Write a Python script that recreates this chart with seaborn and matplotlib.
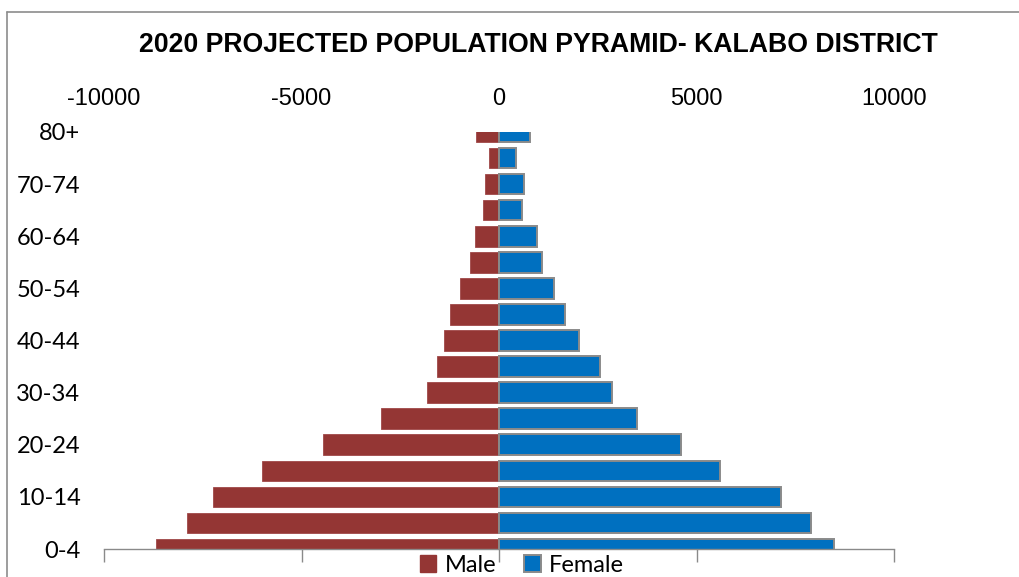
import matplotlib
matplotlib.use("Agg")
import matplotlib.pyplot as plt
import seaborn as sns
import pandas as pd
from matplotlib.lines import Line2D
from matplotlib.patches import Patch

# age groups, youngest first
age_groups = ["0-4", "5-9", "10-14", "15-19", "20-24", "25-29", "30-34", "35-39",
              "40-44", "45-49", "50-54", "55-59", "60-64", "65-69", "70-74", "75-79", "80+"]
male = [8680, 7910, 7230, 6010, 4450, 3000, 1830, 1580, 1380, 1230, 1000, 740, 610, 410, 350, 250, 580]
female = [8480, 7910, 7150, 5600, 4610, 3490, 2870, 2550, 2030, 1660, 1380, 1100, 970, 590, 640, 430, 790]
x_ticks = [-10000, -5000, 0, 5000, 10000]

male_color = "#943634"
female_color = "#0070C0"

df = pd.DataFrame({"Age": age_groups, "Male": [-m for m in male], "Female": female})
order = age_groups[::-1]  # oldest at the top

sns.set_style("white")
plt.rcParams["font.family"] = ["Liberation Sans", "DejaVu Sans"]
plt.rcParams["text.color"] = "black"
plt.rcParams["xtick.color"] = "black"
plt.rcParams["ytick.color"] = "black"

narrow = ["Lato", "DejaVu Sans"]

fig = plt.figure(figsize=(10.19, 5.77), dpi=100)
ax = fig.add_axes([104 / 1019, 1 - 549 / 577, 790 / 1019, 417 / 577])

sns.barplot(data=df, x="Male", y="Age", order=order, orient="h", color=male_color,
            width=0.79, edgecolor="#a04848", linewidth=0.6, saturation=1, ax=ax)
sns.barplot(data=df, x="Female", y="Age", order=order, orient="h", color=female_color,
            width=0.79, edgecolor="#8a8a8a", linewidth=1.4, saturation=1, ax=ax)

ax.set_xlim(-10000, 10000)
ax.set_ylim(len(order) - 1, 0)
ax.set_xticks(x_ticks)
ax.set_xticklabels([str(t) for t in x_ticks], fontsize=17)
ax.tick_params(axis="x", top=False, bottom=True, labeltop=True, labelbottom=False,
               length=9, width=1, color="#8a8a8a", labelcolor="black", direction="out", pad=7)

ax.set_yticks(range(0, len(order), 2))
ax.set_yticklabels(order[::2], fontsize=17, family=narrow)
ax.tick_params(axis="y", length=0, pad=17, labelcolor="black")

ax.set_xlabel("")
ax.set_ylabel("")
for s in ["top", "left", "right"]:
    ax.spines[s].set_visible(False)
ax.spines["bottom"].set_color("#8a8a8a")
ax.spines["bottom"].set_linewidth(1)

fig.text(538 / 1019, 1 - 45 / 577, "2020 PROJECTED POPULATION PYRAMID- KALABO DISTRICT",
         ha="center", va="center", fontsize=19.2, fontweight="bold", color="black")

handles = [Patch(facecolor=male_color, edgecolor=male_color, label="Male"),
           Patch(facecolor=female_color, edgecolor="#8a8a8a", linewidth=1.4, label="Female")]
fig.legend(handles=handles, loc="center", bbox_to_anchor=(522 / 1019, 1 - 565 / 577), ncol=2,
           frameon=False, handlelength=0.7, handleheight=0.7, handletextpad=0.35, columnspacing=1.2,
           prop={"family": narrow, "size": 17})

# chart border (top and left edges)
y_top = 1 - 12 / 577
x_left = 7 / 1019
fig.add_artist(Line2D([x_left, 1], [y_top, y_top], transform=fig.transFigure, color="#8c8c8c", lw=1.2))
fig.add_artist(Line2D([x_left, x_left], [0, y_top], transform=fig.transFigure, color="#8c8c8c", lw=1.2))

fig.savefig("out.png", dpi=100)
